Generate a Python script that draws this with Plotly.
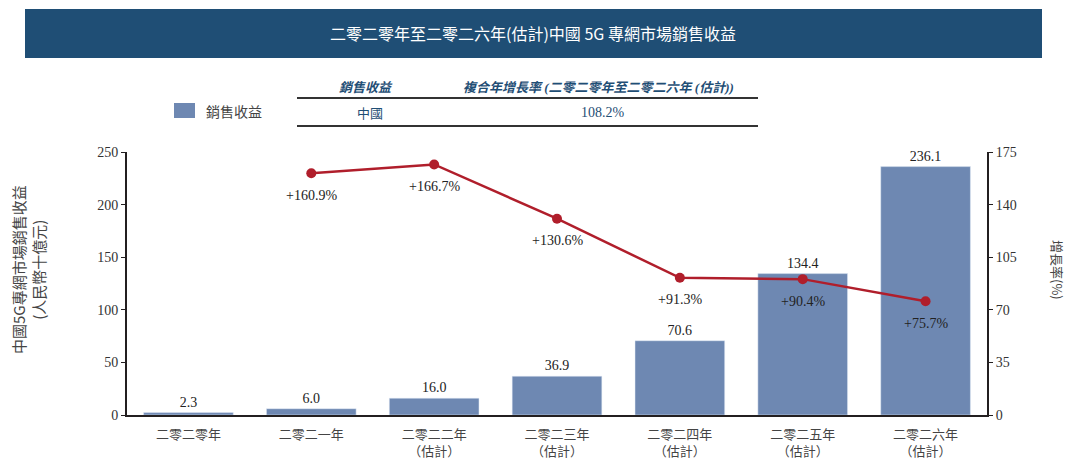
import plotly.graph_objects as go

categories = ["二零二零年", "二零二一年", "二零二二年<br>（估計）", "二零二三年<br>（估計）",
              "二零二四年<br>（估計）", "二零二五年<br>（估計）", "二零二六年<br>（估計）"]
revenue = [2.3, 6.0, 16.0, 36.9, 70.6, 134.4, 236.1]
growth_x = categories[1:]
growth = [160.9, 166.7, 130.6, 91.3, 90.4, 75.7]
growth_labels = ["+160.9%", "+166.7%", "+130.6%", "+91.3%", "+90.4%", "+75.7%"]
left_ticks = [0, 50, 100, 150, 200, 250]
right_ticks = [0, 35, 70, 105, 140, 175]

W, H = 1067, 461
L, R, T, B = 127, 987, 152, 415
def px(x):
    return (x - L) / (R - L)
def py(y):
    return (B - y) / (B - T)

BAR = "#6E88B2"
LINE = "#B01E2B"
NAVY = "#1F4E75"
SERIF = "Liberation Serif, Noto Sans CJK TC, serif"
CJK = "Noto Sans CJK TC, sans-serif"

fig = go.Figure()
fig.add_trace(go.Bar(
    x=categories, y=revenue, marker_color=BAR, width=0.73,
    text=[f"{v:.1f}" for v in revenue], textposition="outside",
    textfont=dict(family=SERIF, size=14, color="#222"), cliponaxis=False,
    showlegend=False,
))
fig.add_trace(go.Scatter(
    x=growth_x, y=growth, yaxis="y2", mode="lines+markers",
    line=dict(color=LINE, width=2.5), marker=dict(color=LINE, size=10),
    cliponaxis=False, showlegend=False,
))

fig.update_layout(
    width=W, height=H,
    margin=dict(l=L, r=W - R, t=T, b=H - B),
    plot_bgcolor="white", paper_bgcolor="white",
    bargap=0.27,
    xaxis=dict(showline=True, linecolor="#231F20", linewidth=2, ticks="",
               ticklabelstandoff=6, automargin=False,
               tickfont=dict(family=CJK, size=13, color="#444"), showgrid=False),
    yaxis=dict(range=[0, 250], tickvals=left_ticks, showline=True, linecolor="#231F20",
               linewidth=2, ticks="outside", ticklen=4, tickcolor="#231F20", showgrid=False,
               zeroline=False, automargin=False,
               tickfont=dict(family=SERIF, size=14, color="#333")),
    yaxis2=dict(range=[0, 175], tickvals=right_ticks, overlaying="y", side="right",
                showline=True, linecolor="#231F20", linewidth=2, ticks="outside", ticklen=4,
                tickcolor="#231F20", showgrid=False, zeroline=False, automargin=False,
                tickfont=dict(family=SERIF, size=14, color="#333")),
)

shapes = []
annotations = []
def ann(x, y, text, font, xanchor="center", **kw):
    annotations.append(dict(xref="paper", yref="paper", x=px(x), y=py(y), text=text,
                            showarrow=False, xanchor=xanchor, yanchor="middle",
                            font=font, **kw))

# Growth labels below points
for cx, gv, gl in zip(growth_x, growth, growth_labels):
    annotations.append(dict(xref="x", yref="y2", x=cx, y=gv, text=gl, showarrow=False,
                            yshift=-22, xanchor="center", yanchor="middle",
                            font=dict(family=SERIF, size=14, color="#222")))

# Title banner
shapes.append(dict(type="rect", xref="paper", yref="paper", x0=px(25), x1=px(1042),
                   y0=py(58), y1=py(9), fillcolor=NAVY, line=dict(width=0), layer="below"))
ann(533, 33, "二零二零年至二零二六年(估計)中國 5G 專網市場銷售收益",
    dict(family=CJK, size=16, color="white"))
# Table
ann(366, 87, "<b><i>銷售收益</i></b>", dict(family=SERIF, size=13, color=NAVY))
ann(598, 87, "<b><i>複合年增長率 (二零二零年至二零二六年 (估計))</i></b>",
    dict(family=SERIF, size=13, color=NAVY))
shapes.append(dict(type="line", xref="paper", yref="paper", x0=px(297), x1=px(758),
                   y0=py(98), y1=py(98), line=dict(color="#333", width=2)))
ann(370, 112, "中國", dict(family=CJK, size=13, color=NAVY))
ann(603, 112, "108.2%", dict(family=SERIF, size=14, color=NAVY))
shapes.append(dict(type="line", xref="paper", yref="paper", x0=px(297), x1=px(758),
                   y0=py(126), y1=py(126), line=dict(color="#333", width=2)))
# Legend
shapes.append(dict(type="rect", xref="paper", yref="paper", x0=px(174), x1=px(195),
                   y0=py(118), y1=py(103), fillcolor=BAR, line=dict(width=0)))
ann(204, 111, "銷售收益", dict(family=CJK, size=14, color="#444"), xanchor="left")
# Axis titles
ann(28, 270, "中國5G專網市場銷售收益<br>(人民幣十億元)", dict(family=CJK, size=15, color="#444"),
    textangle=-90)
ann(1058, 270, "增長率(%)", dict(family=CJK, size=13, color="#444"), textangle=90)

fig.update_layout(shapes=shapes, annotations=annotations)
fig.write_html("out.html", config={"displayModeBar": False},
               post_script="document.body.style.margin='0';document.body.style.overflow='hidden';")
